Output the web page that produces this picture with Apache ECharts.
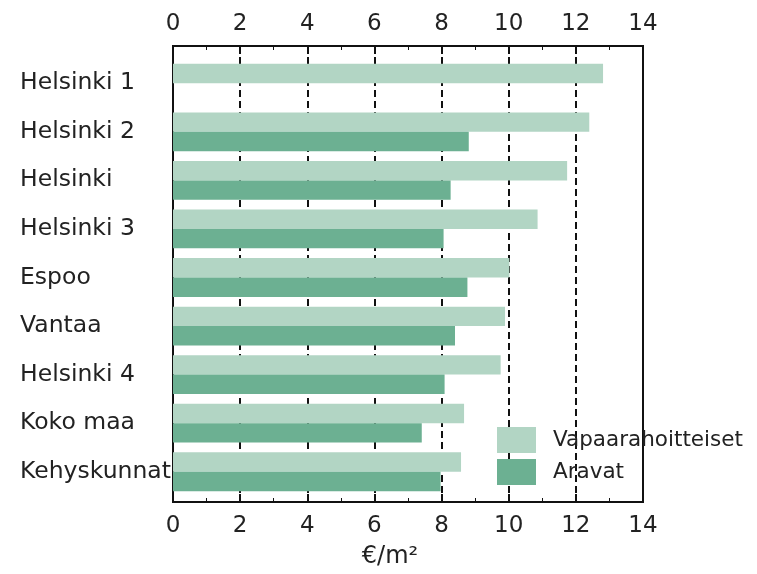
<!DOCTYPE html>
<html>
<head>
<meta charset="utf-8">
<script src="https://cdn.jsdelivr.net/npm/echarts@6/dist/echarts.min.js"></script>
<style>
html,body{margin:0;padding:0;background:#fff;}
#chart{width:757px;height:574px;}
</style>
</head>
<body>
<div id="chart"></div>
<script>
const categories = ['Helsinki 1','Helsinki 2','Helsinki','Helsinki 3','Espoo','Vantaa','Helsinki 4','Koko maa','Kehyskunnat'];
const vapaarahoitteiset = [12.81, 12.40, 11.74, 10.86, 10.02, 9.89, 9.76, 8.67, 8.58];
const aravat = [null, 8.81, 8.27, 8.06, 8.77, 8.40, 8.09, 7.41, 7.97];
const seriesNames = ['Vapaarahoitteiset','Aravat'];
const axisName = '€/m²';

const FONT = 'DejaVu Sans';
const chart = echarts.init(document.getElementById('chart'));
const frameAxis = {
  gridIndex: 0, type: 'value', min: 0, max: 14, interval: 2,
  axisLine: {show: true, lineStyle: {color: '#111', width: 2}},
  axisTick: {show: true, inside: true, length: 8, lineStyle: {color: '#111', width: 2}},
  minorTick: {show: true, splitNumber: 2, length: 4, lineStyle: {color: '#111', width: 1}},
  axisLabel: {fontFamily: FONT, fontSize: 23, color: '#222'},
  splitLine: {show: false}
};
chart.setOption({
  backgroundColor: '#fff',
  animation: false,
  grid: [
    {left: 173, right: 114, top: 46, bottom: 69, show: true, borderColor: '#111', borderWidth: 2, containLabel: false},
    {left: 173, right: 114, top: 59, height: 437, containLabel: false}
  ],
  xAxis: [
    Object.assign({}, frameAxis, {
      position: 'bottom',
      axisLabel: Object.assign({}, frameAxis.axisLabel, {margin: 13}),
      splitLine: {show: true, lineStyle: {color: '#111', width: 2, type: [7, 4]}},
      name: axisName, nameLocation: 'middle', nameGap: 43,
      nameTextStyle: {fontFamily: FONT, fontSize: 24, color: '#222', padding: [0, 36, 0, 0]}
    }),
    Object.assign({}, frameAxis, {
      position: 'top',
      axisLabel: Object.assign({}, frameAxis.axisLabel, {margin: 10})
    }),
    {gridIndex: 1, type: 'value', min: 0, max: 14, show: false}
  ],
  yAxis: [
    {gridIndex: 0, type: 'value', min: 0, max: 1, show: false},
    {gridIndex: 1, type: 'category', data: categories, inverse: true,
     axisLine: {show: false}, axisTick: {show: false}, splitLine: {show: false},
     axisLabel: {align: 'left', margin: 153, fontFamily: FONT, fontSize: 23.5, color: '#222'}}
  ],
  legend: {
    orient: 'vertical', left: 497, top: 427, padding: 0, itemWidth: 39, itemHeight: 26, itemGap: 6,
    icon: 'rect', data: seriesNames,
    textStyle: {fontFamily: FONT, fontSize: 21.5, color: '#222', padding: [0, 0, 0, 12]}
  },
  series: [
    {name: seriesNames[0], type: 'bar', xAxisIndex: 2, yAxisIndex: 1, data: vapaarahoitteiset,
     barGap: '0%', barCategoryGap: '20%', itemStyle: {color: '#b2d5c4'}},
    {name: seriesNames[1], type: 'bar', xAxisIndex: 2, yAxisIndex: 1, data: aravat,
     barGap: '0%', barCategoryGap: '20%', itemStyle: {color: '#6cb092'}}
  ]
});
</script>
</body>
</html>
